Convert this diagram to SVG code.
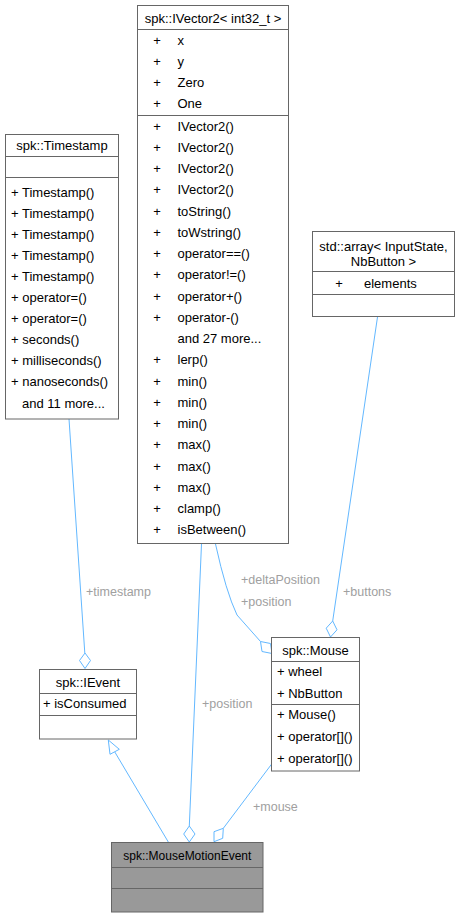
<svg xmlns="http://www.w3.org/2000/svg" width="460" height="917" viewBox="0 0 460 917">
<style>
text{font-family:"Liberation Sans",Arial,sans-serif;font-size:13px;fill:#000}
.box{fill:#fff;stroke:#666;stroke-width:1}
.cur{fill:#999;stroke:#666;stroke-width:1}
.div{stroke:#666;stroke-width:1}
.c{text-anchor:middle}
.edge{fill:none;stroke:#63B8FF;stroke-width:1}
.dia{fill:#fff;stroke:#63B8FF;stroke-width:1}
.lbl{fill:#a0a0a0;font-size:12.5px}
</style>
<rect width="460" height="917" fill="#fff"/>
<g id="connectors">
  <!-- timestamp -->
  <path class="edge" d="M69,419 L84.8,653"/>
  <polygon class="dia" points="85,653 90.5,660.5 85,668.5 79.5,660.5"/>
  <text class="lbl" x="86" y="595.5">+timestamp</text>
  <!-- position to MouseMotionEvent -->
  <path class="edge" d="M201.5,544 L189.3,826"/>
  <polygon class="dia" points="189.3,826 195,834 189.3,842 183.7,834"/>
  <text class="lbl" x="202" y="707.5">+position</text>
  <!-- deltaPosition / position to Mouse -->
  <path class="edge" d="M215.5,544 Q226,592 237,615 L260.5,641.5"/>
  <polygon class="dia" points="260.5,641.5 270.5,643.5 272,653.5 262,651.5"/>
  <text class="lbl" x="241" y="584">+deltaPosition</text>
  <text class="lbl" x="241" y="606">+position</text>
  <!-- buttons -->
  <path class="edge" d="M377.5,317 L332.7,621"/>
  <polygon class="dia" points="332.7,621 337,629.8 330.5,637 326.2,628.2"/>
  <text class="lbl" x="343" y="596">+buttons</text>
  <!-- mouse -->
  <path class="edge" d="M271.7,764 L223.3,828.3"/>
  <polygon class="dia" points="223.3,828.3 222.7,838.3 214,841.7 214,831.7"/>
  <text class="lbl" x="253" y="811">+mouse</text>
  <!-- inheritance -->
  <path class="edge" d="M168.3,842 L114.7,751.8"/>
  <polygon class="dia" points="108.3,740 119.3,749.3 110,754.3"/>
</g>
<g id="node-ivector2">
  <rect class="box" x="137.5" y="5.5" width="151" height="538"/>
  <line class="div" x1="137.5" y1="29.5" x2="288.5" y2="29.5"/>
  <line class="div" x1="137.5" y1="115.5" x2="288.5" y2="115.5"/>
  <text class="c" x="213" y="22.8">spk::IVector2&lt; int32_t &gt;</text>
  <g class="c">
    <text class="c" x="157" y="44.5">+</text>
    <text class="c" x="157" y="65.8">+</text>
    <text class="c" x="157" y="87">+</text>
    <text class="c" x="157" y="108.3">+</text>
    <text class="c" x="157" y="130.5">+</text>
    <text class="c" x="157" y="151.75">+</text>
    <text class="c" x="157" y="173">+</text>
    <text class="c" x="157" y="194.25">+</text>
    <text class="c" x="157" y="215.5">+</text>
    <text class="c" x="157" y="236.75">+</text>
    <text class="c" x="157" y="258">+</text>
    <text class="c" x="157" y="279.25">+</text>
    <text class="c" x="157" y="300.5">+</text>
    <text class="c" x="157" y="321.75">+</text>
    <text class="c" x="157" y="364.25">+</text>
    <text class="c" x="157" y="385.5">+</text>
    <text class="c" x="157" y="406.75">+</text>
    <text class="c" x="157" y="428">+</text>
    <text class="c" x="157" y="449.25">+</text>
    <text class="c" x="157" y="470.5">+</text>
    <text class="c" x="157" y="491.75">+</text>
    <text class="c" x="157" y="513">+</text>
    <text class="c" x="157" y="534.25">+</text>
  </g>
  <text x="177.5" y="44.5">x</text>
  <text x="177.5" y="65.8">y</text>
  <text x="177.5" y="87">Zero</text>
  <text x="177.5" y="108.3">One</text>
  <text x="177.5" y="130.5">IVector2()</text>
  <text x="177.5" y="151.75">IVector2()</text>
  <text x="177.5" y="173">IVector2()</text>
  <text x="177.5" y="194.25">IVector2()</text>
  <text x="177.5" y="215.5">toString()</text>
  <text x="177.5" y="236.75">toWstring()</text>
  <text x="177.5" y="258">operator==()</text>
  <text x="177.5" y="279.25">operator!=()</text>
  <text x="177.5" y="300.5">operator+()</text>
  <text x="177.5" y="321.75">operator-()</text>
  <text x="177.5" y="343">and 27 more...</text>
  <text x="177.5" y="364.25">lerp()</text>
  <text x="177.5" y="385.5">min()</text>
  <text x="177.5" y="406.75">min()</text>
  <text x="177.5" y="428">min()</text>
  <text x="177.5" y="449.25">max()</text>
  <text x="177.5" y="470.5">max()</text>
  <text x="177.5" y="491.75">max()</text>
  <text x="177.5" y="513">clamp()</text>
  <text x="177.5" y="534.25">isBetween()</text>
</g>
<g id="node-timestamp">
  <rect class="box" x="5.5" y="134.5" width="113" height="284.5"/>
  <line class="div" x1="5.5" y1="156.5" x2="118.5" y2="156.5"/>
  <line class="div" x1="5.5" y1="177.5" x2="118.5" y2="177.5"/>
  <text class="c" x="62" y="149.5">spk::Timestamp</text>
  <text x="11" y="196.5">+ Timestamp()</text>
  <text x="11" y="217.6">+ Timestamp()</text>
  <text x="11" y="238.7">+ Timestamp()</text>
  <text x="11" y="259.8">+ Timestamp()</text>
  <text x="11" y="280.9">+ Timestamp()</text>
  <text x="11" y="302">+ operator=()</text>
  <text x="11" y="323.1">+ operator=()</text>
  <text x="11" y="344.2">+ seconds()</text>
  <text x="11" y="365.3">+ milliseconds()</text>
  <text x="11" y="386.4">+ nanoseconds()</text>
  <text x="22" y="407.5">and 11 more...</text>
</g>
<g id="node-array">
  <rect class="box" x="312.5" y="231.5" width="142" height="85"/>
  <line class="div" x1="312.5" y1="271.5" x2="454.5" y2="271.5"/>
  <line class="div" x1="312.5" y1="294.5" x2="454.5" y2="294.5"/>
  <text class="c" x="383.5" y="250.5">std::array&lt; InputState,</text>
  <text class="c" x="383.5" y="265.5">NbButton &gt;</text>
  <text class="c" x="339" y="287.5">+</text>
  <text x="364" y="287.5">elements</text>
</g>
<g id="node-mouse">
  <rect class="box" x="271.5" y="637.5" width="88" height="133.5"/>
  <line class="div" x1="271.5" y1="661.5" x2="359.5" y2="661.5"/>
  <line class="div" x1="271.5" y1="704.5" x2="359.5" y2="704.5"/>
  <text class="c" x="315.5" y="654.5">spk::Mouse</text>
  <text x="277" y="676">+ wheel</text>
  <text x="277" y="697.5">+ NbButton</text>
  <text x="277" y="718.5">+ Mouse()</text>
  <text x="277" y="740.5">+ operator[]()</text>
  <text x="277" y="762.5">+ operator[]()</text>
</g>
<g id="node-ievent">
  <rect class="box" x="39.5" y="669.5" width="97" height="69.5"/>
  <line class="div" x1="39.5" y1="693.5" x2="136.5" y2="693.5"/>
  <line class="div" x1="39.5" y1="715.5" x2="136.5" y2="715.5"/>
  <text class="c" x="88" y="687">spk::IEvent</text>
  <text x="43" y="707.5">+ isConsumed</text>
</g>
<g id="node-mousemotionevent">
  <rect class="cur" x="111.5" y="842.5" width="151.5" height="69.5"/>
  <line class="div" x1="111.5" y1="867.5" x2="263" y2="867.5"/>
  <line class="div" x1="111.5" y1="888.5" x2="263" y2="888.5"/>
  <text class="c" x="187.3" y="859.5" style="font-size:12px">spk::MouseMotionEvent</text>
</g>
</svg>
